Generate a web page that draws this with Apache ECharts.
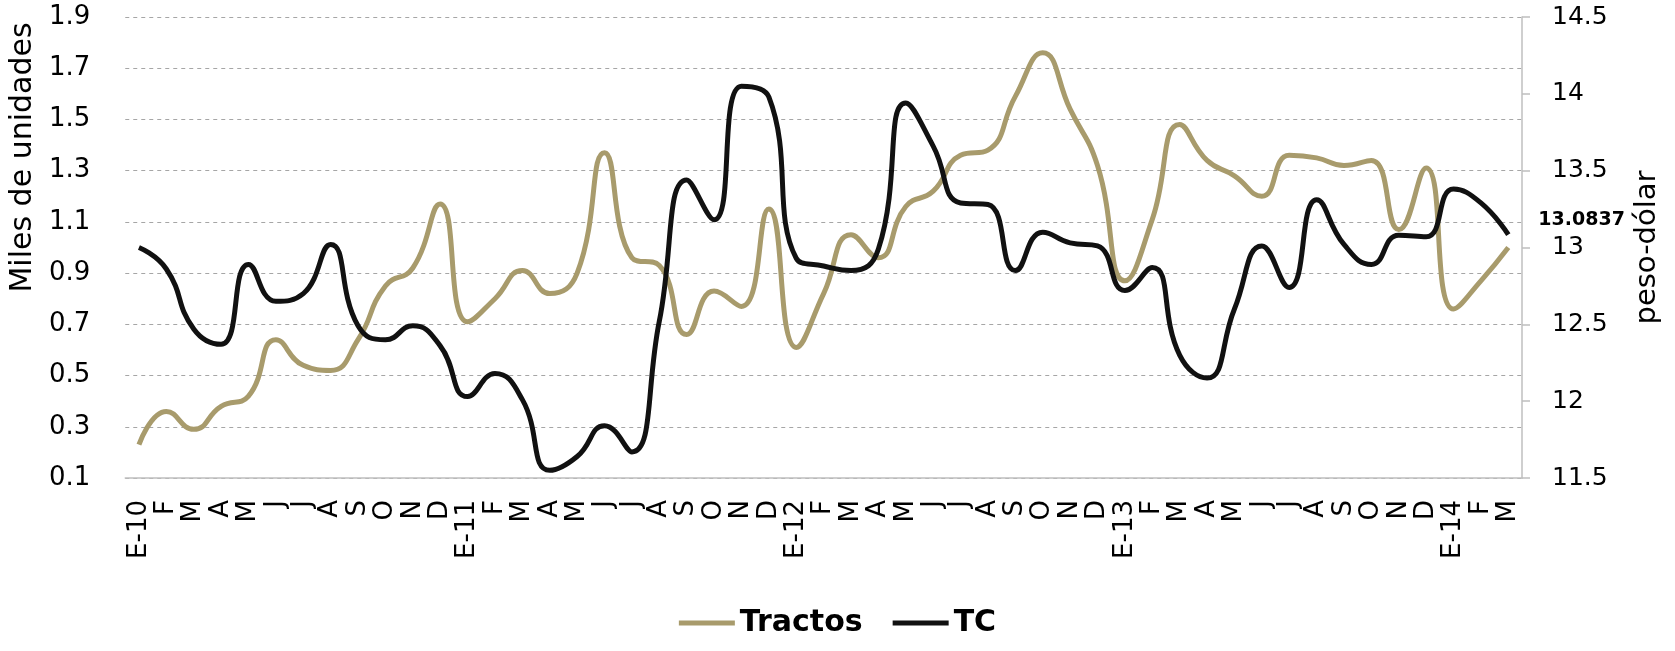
<!DOCTYPE html>
<html>
<head>
<meta charset="utf-8">
<script src="https://cdn.jsdelivr.net/npm/echarts@6/dist/echarts.min.js"></script>
<style>
html,body{margin:0;padding:0;background:#fff;}
#chart{width:1675px;height:651px;}
</style>
</head>
<body>
<div id="chart"></div>
<script>
// Month tick labels (E-10 … M-14)
const months = [
  'E-10','F','M','A','M','J','J','A','S','O','N','D',
  'E-11','F','M','A','M','J','J','A','S','O','N','D',
  'E-12','F','M','A','M','J','J','A','S','O','N','D',
  'E-13','F','M','A','M','J','J','A','S','O','N','D',
  'E-14','F','M'
];

// Tractos (miles de unidades) – left axis
const tractos = [
  0.23,0.36,0.29,0.38,0.42,0.64,0.54,0.52,0.64,0.85,0.92,1.17,
  0.71,0.80,0.91,0.82,0.90,1.37,0.96,0.93,0.66,0.83,0.77,1.15,
  0.61,0.82,1.05,0.96,1.16,1.22,1.36,1.38,1.59,1.76,1.54,1.32,
  0.87,1.11,1.48,1.34,1.28,1.20,1.36,1.35,1.32,1.34,1.07,1.31,
  0.76,0.87,1.00
];

// TC (peso-dólar) – right axis
const tc = [
  13.00,12.86,12.47,12.37,12.89,12.65,12.70,13.02,12.49,12.40,12.49,12.36,
  12.03,12.18,12.01,11.55,11.64,11.84,11.67,12.52,13.44,13.18,14.05,13.98,
  12.93,12.88,12.85,12.99,13.94,13.66,13.29,13.28,12.85,13.10,13.03,13.01,
  12.72,12.87,12.30,12.15,12.60,13.01,12.74,13.31,13.02,12.89,13.08,13.07,
  13.38,13.29,13.0837
];

const seriesNames = ['Tractos', 'TC'];
const axisNames = ['Miles de unidades', 'peso-dólar'];
const leftScale = { min: 0.1, max: 1.9, step: 0.2 };
const rightScale = { min: 11.5, max: 14.5, step: 0.5 };

const FONT = '"DejaVu Sans", sans-serif';
const GOLD = '#A89B6C';
const BLACK = '#111111';

const chart = echarts.init(document.getElementById('chart'), null, { renderer: 'canvas' });
chart.setOption({
  animation: false,
  backgroundColor: '#ffffff',
  grid: { left: 124, right: 153, top: 17, bottom: 173, containLabel: false },
  legend: {
    data: seriesNames,
    bottom: 8,
    left: 'center',
    icon: 'rect',
    itemWidth: 56,
    itemHeight: 5,
    itemGap: 30,
    textStyle: { fontFamily: FONT, fontSize: 30, fontWeight: 'bold', color: '#000' }
  },
  xAxis: {
    type: 'category',
    data: months,
    boundaryGap: true,
    axisLine: { show: true, lineStyle: { color: '#bfbfbf', width: 1.5 } },
    axisTick: { show: false },
    axisLabel: { interval: 0, rotate: 90, margin: 22, fontFamily: FONT, fontSize: 26, color: '#000' },
    splitLine: { show: false }
  },
  yAxis: [
    {
      type: 'value',
      min: leftScale.min, max: leftScale.max, interval: leftScale.step,
      position: 'left',
      name: axisNames[0],
      nameLocation: 'middle',
      nameRotate: 90,
      nameGap: 71,
      nameTextStyle: { fontFamily: FONT, fontSize: 30, color: '#000', padding: [0, 0, 0, 180] },
      axisLine: { show: false },
      axisTick: { show: false },
      axisLabel: { margin: 35, fontFamily: FONT, fontSize: 26, color: '#000',
                   formatter: v => v.toFixed(1) },
      splitLine: { show: true, lineStyle: { color: '#a6a6a6', width: 1, type: [4, 4] } }
    },
    {
      type: 'value',
      min: rightScale.min, max: rightScale.max, interval: rightScale.step,
      position: 'right',
      name: axisNames[1],
      nameLocation: 'middle',
      nameRotate: 90,
      nameGap: 111,
      nameTextStyle: { fontFamily: FONT, fontSize: 29, color: '#000' },
      axisLine: { show: true, lineStyle: { color: '#bfbfbf', width: 1.5 } },
      axisTick: { show: true, inside: false, length: 8, lineStyle: { color: '#bfbfbf', width: 1.5 } },
      axisLabel: { margin: 30, fontFamily: FONT, fontSize: 25, color: '#000' },
      splitLine: { show: false }
    }
  ],
  series: [
    {
      name: seriesNames[0],
      type: 'line',
      yAxisIndex: 0,
      data: tractos,
      smooth: 0.5,
      symbol: 'none',
      color: GOLD,
      lineStyle: { color: GOLD, width: 5 },
      z: 2
    },
    {
      name: seriesNames[1],
      type: 'line',
      yAxisIndex: 1,
      data: tc,
      smooth: 0.5,
      symbol: 'none',
      color: BLACK,
      lineStyle: { color: BLACK, width: 5 },
      endLabel: {
        show: true,
        distance: 30,
        offset: [0, -15],
        formatter: p => String(tc[p.dataIndex]),
        fontFamily: FONT, fontSize: 19, fontWeight: 'bold', color: '#000'
      },
      z: 3
    }
  ]
});
</script>
</body>
</html>
